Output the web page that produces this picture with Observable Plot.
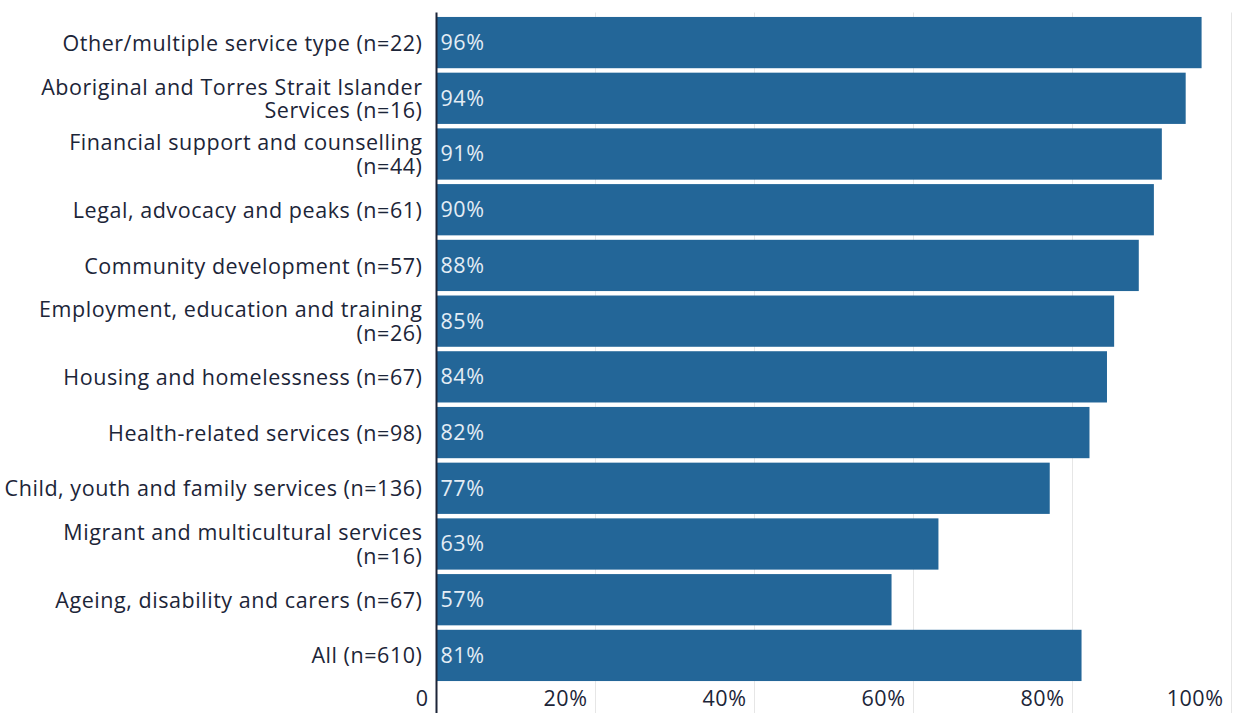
<!DOCTYPE html>
<html>
<head>
<meta charset="utf-8">
<script src="https://cdn.jsdelivr.net/npm/d3@7"></script>
<script src="https://cdn.jsdelivr.net/npm/@observablehq/plot@0.6"></script>
<style>
  html, body { margin: 0; padding: 0; background: #fff; }
  #chart { width: 1233px; height: 713px; }
</style>
</head>
<body>
<div id="chart"></div>
<script>
const categories = [
  "Other/multiple service type (n=22)",
  "Aboriginal and Torres Strait Islander\nServices (n=16)",
  "Financial support and counselling\n(n=44)",
  "Legal, advocacy and peaks (n=61)",
  "Community development (n=57)",
  "Employment, education and training\n(n=26)",
  "Housing and homelessness (n=67)",
  "Health-related services (n=98)",
  "Child, youth and family services (n=136)",
  "Migrant and multicultural services\n(n=16)",
  "Ageing, disability and carers (n=67)",
  "All (n=610)"
];
const values = [96.3, 94.3, 91.3, 90.3, 88.4, 85.3, 84.4, 82.2, 77.2, 63.2, 57.3, 81.2];
const labels = ["96%", "94%", "91%", "90%", "88%", "85%", "84%", "82%", "77%", "63%", "57%", "81%"];
const xTicks = [0, 20, 40, 60, 80, 100];
const xTickLabels = ["0", "20%", "40%", "60%", "80%", "100%"];

const data = categories.map((c, i) => ({category: c, value: values[i], label: labels[i]}));

const textColor = "#1c2538";
const barColor = "#236698";

const chart = Plot.plot({
  width: 1233,
  height: 713,
  marginLeft: 436,
  marginRight: 2,
  marginTop: 12.5,
  marginBottom: 27.5,
  style: {fontFamily: "'Open Sans', sans-serif", fontSize: "21.5px", letterSpacing: "0.55px", color: textColor, background: "#fff"},
  x: {domain: [0, 100], axis: null},
  y: {domain: categories, padding: 0.08, round: false, axis: null},
  marks: [
    Plot.ruleX(xTicks.slice(1), {stroke: "#e6e6e6", strokeWidth: 1, insetBottom: -28}),
    Plot.barX(data, {y: "category", x: "value", fill: barColor}),
    Plot.text(data, {y: "category", x: 0, text: "label", textAnchor: "start", dx: 4, fill: "#e4edf5", fontSize: 21.5}),
    Plot.axisY({
      domain: categories,
      tickSize: 0,
      tickPadding: 14,
      fontSize: 21.5,
      lineHeight: 1.1,
      fill: textColor,
      label: null
    }),
    Plot.text(xTicks, {
      x: d => d,
      frameAnchor: "bottom",
      dy: 20,
      dx: -8,
      text: (d, i) => xTickLabels[i],
      textAnchor: "end",
      fill: textColor,
      fontSize: 21.5
    }),
    Plot.ruleX([0], {stroke: textColor, strokeWidth: 2, insetBottom: -28})
  ]
});
document.getElementById("chart").appendChild(chart);
</script>
</body>
</html>
